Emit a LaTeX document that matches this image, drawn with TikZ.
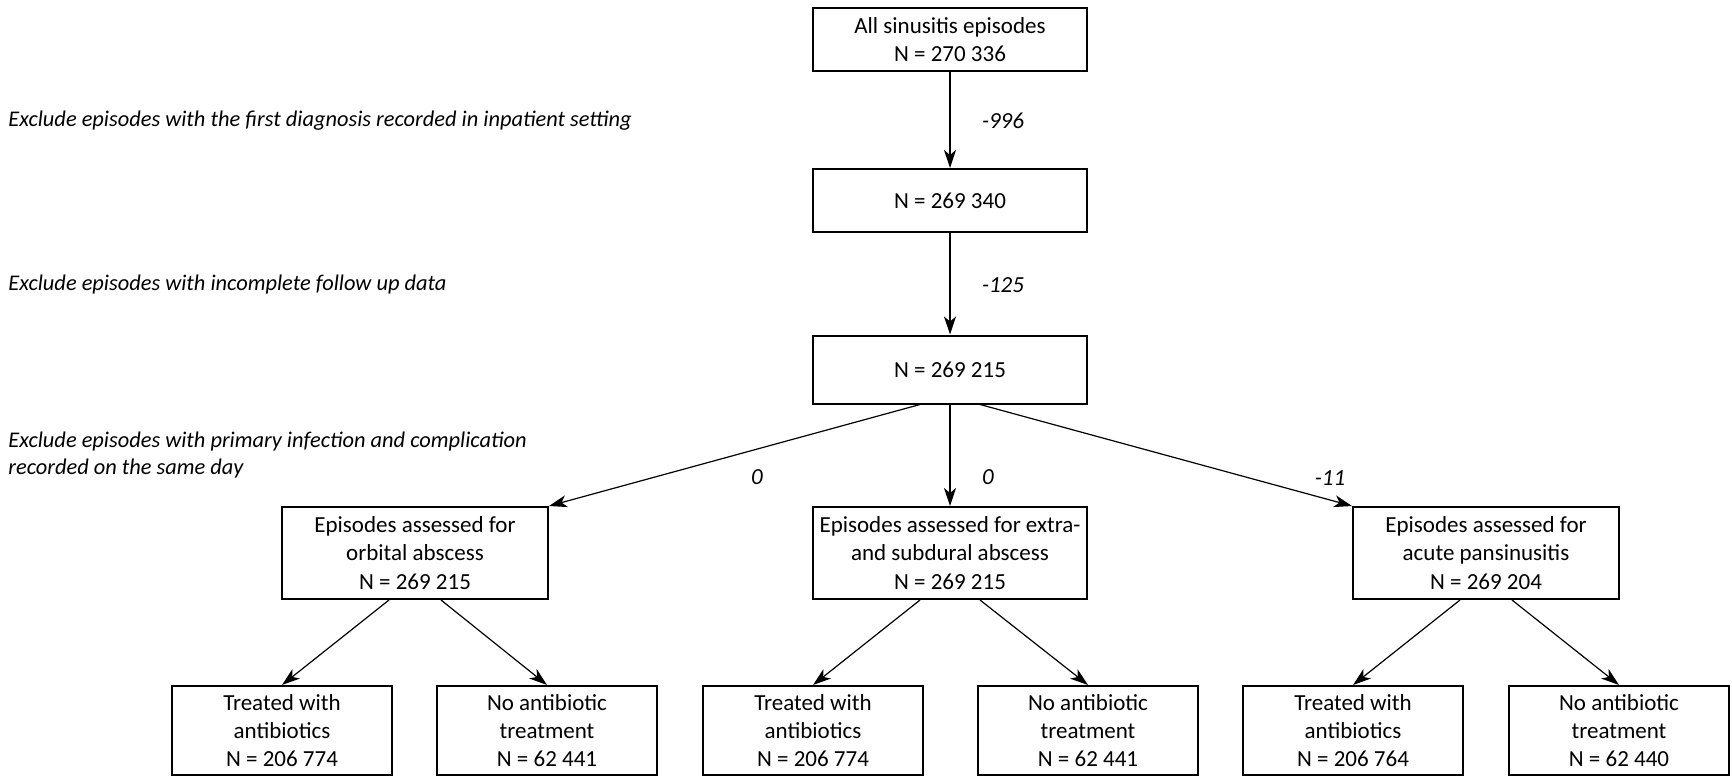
\documentclass[tikz,border=0pt]{standalone}
\usepackage{fontspec}
\setmainfont{Carlito}
\usetikzlibrary{arrows.meta,positioning}

\tikzset{
  box/.style={draw, line width=1pt, align=center, inner sep=0pt,
    font=\fontsize{11.5}{14.2}\selectfont},
  arr/.style={-{Stealth[length=9pt,width=6pt,inset=2.5pt]}, line width=0.6pt},
  note/.style={anchor=west, align=left, inner sep=0pt,
    font=\fontsize{11.2}{13.4}\selectfont\itshape},
  num/.style={inner sep=0pt, font=\fontsize{11.5}{14}\selectfont\itshape},
}

\begin{document}
\begin{tikzpicture}[x=0.5pt, y=-0.5pt]
        \useasboundingbox (0,0) rectangle (1732,777);
        % main column
        \node[box, minimum width=137pt, minimum height=31.5pt] (all) at (950,39.5) {All sinusitis episodes\\N = 270 336};
        \node[box, minimum width=137pt, minimum height=31.5pt] (inpat) at (950,200.5) {N = 269 340};
        \node[box, minimum width=137pt, minimum height=34pt] (follow) at (950,369.5) {N = 269 215};
        % outcomes
        \node[box, minimum width=133pt, minimum height=46pt] (orb) at (415,553) {Episodes assessed for\\orbital abscess\\N = 269 215};
        \node[box, minimum width=137pt, minimum height=46pt] (sub) at (950,553) {Episodes assessed for extra-\\and subdural abscess\\N = 269 215};
        \node[box, minimum width=133pt, minimum height=46pt] (pan) at (1486,553) {Episodes assessed for\\acute pansinusitis\\N = 269 204};
        % treatment groups
        \node[box, minimum width=110pt, minimum height=44.5pt] (orbAB) at (282,730.5) {Treated with\\antibiotics\\N = 206 774};
        \node[box, minimum width=110pt, minimum height=44.5pt] (orbNo) at (547,730.5) {No antibiotic\\treatment\\N = 62 441};
        \node[box, minimum width=110pt, minimum height=44.5pt] (subAB) at (813,730.5) {Treated with\\antibiotics\\N = 206 774};
        \node[box, minimum width=110pt, minimum height=44.5pt] (subNo) at (1088,730.5) {No antibiotic\\treatment\\N = 62 441};
        \node[box, minimum width=110pt, minimum height=44.5pt] (panAB) at (1353,730.5) {Treated with\\antibiotics\\N = 206 764};
        \node[box, minimum width=110pt, minimum height=44.5pt] (panNo) at (1619,730.5) {No antibiotic\\treatment\\N = 62 440};
        % exclusion steps
        \node[note] (ex1) at (8,121) {Exclude episodes with the first diagnosis recorded in inpatient setting};
        \node[note] (ex2) at (8,285) {Exclude episodes with incomplete follow up data};
        \node[note] (ex3) at (8,455) {Exclude episodes with primary infection and complication\\recorded on the same day};
        \node[num] (d1) at (1003,121) {-996};
        \node[num] (d2) at (1003,285) {-125};
        \node[num] (d3) at (757,477) {0};
        \node[num] (d4) at (988,477) {0};
        \node[num] (d5) at (1330,478) {-11};
        % arrows
        \draw[arr] (all) -- (inpat);
        \draw[arr] (inpat) -- (follow);
        \draw[arr] ([xshift=-15pt]follow.south) -- (orb.north east);
        \draw[arr] (follow) -- (sub);
        \draw[arr] ([xshift=15pt]follow.south) -- (pan.north west);
        \draw[arr] ([xshift=-13pt]orb.south) -- (orbAB.north);
        \draw[arr] ([xshift=13pt]orb.south) -- (orbNo.north);
        \draw[arr] ([xshift=-15pt]sub.south) -- (subAB.north);
        \draw[arr] ([xshift=15pt]sub.south) -- (subNo.north);
        \draw[arr] ([xshift=-13pt]pan.south) -- (panAB.north);
        \draw[arr] ([xshift=13pt]pan.south) -- (panNo.north);
\end{tikzpicture}
\end{document}
